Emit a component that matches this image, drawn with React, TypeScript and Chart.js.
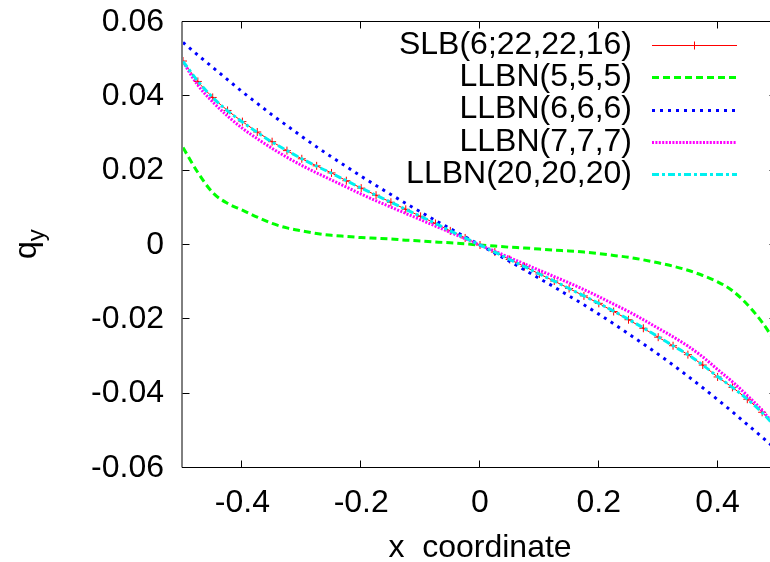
import React, { useEffect, useRef } from "react";
import { Chart, registerables } from "chart.js";

Chart.register(...registerables);

// ---------- data ----------
const xValues = [
  -0.5, -0.475, -0.45, -0.425, -0.4, -0.375, -0.35, -0.325, -0.3, -0.275,
  -0.25, -0.225, -0.2, -0.175, -0.15, -0.125, -0.1, -0.075, -0.05, -0.025,
  0,
  0.025, 0.05, 0.075, 0.1, 0.125, 0.15, 0.175, 0.2, 0.225, 0.25,
  0.275, 0.3, 0.325, 0.35, 0.375, 0.4, 0.425, 0.45, 0.475, 0.5,
];

const slb = [
  0.0495, 0.044, 0.0397, 0.0362, 0.0332, 0.0304, 0.0278, 0.0254, 0.0232, 0.0213,
  0.0194, 0.0173, 0.0153, 0.0134, 0.0115, 0.0096, 0.0077, 0.0058, 0.0038, 0.0019,
  0,
  -0.0019, -0.0039, -0.0058, -0.0078, -0.0097, -0.0117, -0.0137, -0.0157, -0.0179, -0.0201,
  -0.0224, -0.0248, -0.0271, -0.0295, -0.0323, -0.0355, -0.0383, -0.0415, -0.045, -0.0495,
];

const llbn5 = [
  0.0262, 0.0195, 0.0141, 0.0112, 0.0094, 0.0075, 0.0058, 0.0046, 0.0038, 0.0031,
  0.0026, 0.0023, 0.002, 0.0018, 0.0016, 0.0013, 0.0011, 0.0008, 0.0006, 0.0003,
  0,
  -0.0003, -0.0006, -0.0008, -0.0011, -0.0014, -0.0016, -0.0019, -0.0023, -0.0028, -0.0033,
  -0.004, -0.0048, -0.0057, -0.0068, -0.0082, -0.0099, -0.0123, -0.016, -0.0208, -0.0268,
];

const llbn6 = [
  0.0545, 0.0511, 0.0478, 0.0445, 0.0412, 0.0381, 0.035, 0.0321, 0.0292, 0.0264,
  0.0237, 0.0211, 0.0185, 0.016, 0.0136, 0.0112, 0.0089, 0.0066, 0.0044, 0.0022,
  0,
  -0.0022, -0.0044, -0.0067, -0.009, -0.0113, -0.0137, -0.0161, -0.0186, -0.0212, -0.0239,
  -0.0266, -0.0294, -0.0323, -0.0353, -0.0384, -0.0416, -0.0449, -0.0483, -0.0517, -0.0552,
];

const llbn7 = [
  0.0493, 0.043, 0.0385, 0.0347, 0.0314, 0.0286, 0.026, 0.0236, 0.0214, 0.0194,
  0.0175, 0.0156, 0.0137, 0.0119, 0.0102, 0.0085, 0.0068, 0.0051, 0.0034, 0.0017,
  0,
  -0.0017, -0.0034, -0.0051, -0.0068, -0.0085, -0.0102, -0.012, -0.0139, -0.0159, -0.0179,
  -0.0201, -0.0224, -0.0247, -0.0272, -0.0301, -0.0335, -0.0368, -0.0405, -0.0445, -0.0493,
];

const llbn20 = [
  0.0494, 0.0441, 0.0397, 0.0361, 0.0331, 0.0303, 0.0277, 0.0254, 0.0232, 0.0212,
  0.0193, 0.0173, 0.0153, 0.0134, 0.0115, 0.0096, 0.0077, 0.0058, 0.0038, 0.0019,
  0,
  -0.0019, -0.0039, -0.0058, -0.0078, -0.0097, -0.0117, -0.0137, -0.0157, -0.0178, -0.02,
  -0.0223, -0.0247, -0.0271, -0.0295, -0.0323, -0.0354, -0.0383, -0.0415, -0.0451, -0.0494,
];

const seriesNames = [
  "SLB(6;22,22,16)",
  "LLBN(5,5,5)",
  "LLBN(6,6,6)",
  "LLBN(7,7,7)",
  "LLBN(20,20,20)",
];

const xTicks = [-0.4, -0.2, 0, 0.2, 0.4];
const xTickLabels = ["-0.4", "-0.2", "0", "0.2", "0.4"];
const yTicks = [-0.06, -0.04, -0.02, 0, 0.02, 0.04, 0.06];
const yTickLabels = ["-0.06", "-0.04", "-0.02", "0", "0.02", "0.04", "0.06"];

const xTitle = "x  coordinate";
const yTitleMain = "q";
const yTitleSub = "y";

// ---------- styling ----------
const FONT_FAMILY = "'Liberation Sans', Arial, Helvetica, sans-serif";
const FONT_SIZE = 32;
const CANVAS_W = 800;
const CANVAS_H = 567;
const PLOT_LEFT = 183;
const PLOT_TOP = 22;
const PLOT_BOTTOM = 468;
const PLOT_RIGHT = 777;

const styles = [
  { color: "#ff0000", width: 1, dash: [] as number[] },
  { color: "#00ff00", width: 3, dash: [7, 4] },
  { color: "#0000ff", width: 3, dash: [3, 5] },
  { color: "#ff00ff", width: 3, dash: [2, 1.4] },
  { color: "#00f0f0", width: 3, dash: [7, 3, 3, 3] },
];

const seriesValues = [slb, llbn5, llbn6, llbn7, llbn20];

const decorPlugin = {
  id: "gnuplotDecor",
  afterDraw(chart: any) {
    const { ctx, chartArea: a, scales } = chart;
    const xs = scales.x;
    const ys = scales.y;
    const L = Math.round(a.left) - 0.5;
    const R = Math.round(a.right) - 0.5;
    const T = Math.round(a.top) - 0.5;
    const B = Math.round(a.bottom) - 0.5;
    ctx.save();
    ctx.globalAlpha = 1;
    ctx.strokeStyle = "#000000";
    ctx.lineWidth = 1;
    ctx.setLineDash([]);
    ctx.lineCap = "square";
    // frame
    ctx.beginPath();
    ctx.moveTo(L, T);
    ctx.lineTo(R, T);
    ctx.lineTo(R, B);
    ctx.lineTo(L, B);
    ctx.closePath();
    ctx.stroke();
    // inward ticks
    const TL = 7;
    ctx.lineCap = "butt";
    ctx.beginPath();
    xTicks.forEach((v) => {
      const px = Math.round(xs.getPixelForValue(v)) - 0.5;
      ctx.moveTo(px, B);
      ctx.lineTo(px, B - TL);
      ctx.moveTo(px, T);
      ctx.lineTo(px, T + TL);
    });
    yTicks.forEach((v) => {
      const py = Math.round(ys.getPixelForValue(v)) - 0.5;
      ctx.moveTo(L, py);
      ctx.lineTo(L + TL, py);
      ctx.moveTo(R, py);
      ctx.lineTo(R - TL, py);
    });
    ctx.stroke();

    // y axis title q_y (rotated)
    ctx.fillStyle = "#000";
    ctx.save();
    ctx.translate(36, 259);
    ctx.rotate(-Math.PI / 2);
    ctx.textAlign = "left";
    ctx.textBaseline = "alphabetic";
    ctx.font = `${FONT_SIZE}px ${FONT_FAMILY}`;
    ctx.fillText(yTitleMain, 0, 0);
    const w = ctx.measureText(yTitleMain).width;
    ctx.font = `${Math.round(FONT_SIZE * 0.75)}px ${FONT_FAMILY}`;
    ctx.fillText(yTitleSub, w, 8);
    ctx.restore();

    // legend (gnuplot style)
    ctx.font = `${FONT_SIZE}px ${FONT_FAMILY}`;
    ctx.textAlign = "right";
    ctx.textBaseline = "middle";
    seriesNames.forEach((name, i) => {
      const y = 45 + i * 32.3;
      ctx.fillStyle = "#000";
      ctx.fillText(name, 632, y);
      const st = styles[i];
      ctx.strokeStyle = st.color;
      ctx.lineWidth = st.width;
      ctx.setLineDash(st.dash);
      ctx.lineCap = "butt";
      ctx.beginPath();
      const yy = st.width % 2 === 1 ? Math.round(y) + 0.5 : Math.round(y);
      ctx.moveTo(652, yy);
      ctx.lineTo(737, yy);
      ctx.stroke();
      if (i === 0) {
        ctx.setLineDash([]);
        ctx.lineWidth = 1;
        ctx.beginPath();
        ctx.moveTo(694.5, yy - 4);
        ctx.lineTo(694.5, yy + 4);
        ctx.moveTo(690, yy);
        ctx.lineTo(699, yy);
        ctx.stroke();
      }
    });
    ctx.restore();
  },
};

export default function App() {
  const ref = useRef<HTMLCanvasElement | null>(null);

  useEffect(() => {
    if (!ref.current) return;
    const font = { family: FONT_FAMILY, size: FONT_SIZE };
    const datasets = seriesValues.map((vals, i) => ({
      label: seriesNames[i],
      data: xValues.map((x, j) => ({ x, y: vals[j] })),
      borderColor: styles[i].color,
      backgroundColor: styles[i].color,
      borderWidth: styles[i].width,
      borderDash: styles[i].dash,
      borderCapStyle: "butt" as const,
      fill: false,
      cubicInterpolationMode: "monotone" as const,
      pointStyle: "cross" as const,
      pointRadius: i === 0 ? 4 : 0,
      pointBorderWidth: 1,
      pointBorderColor: styles[i].color,
      order: 5 - i,
    }));

    const chart = new Chart(ref.current, {
      type: "line",
      data: { datasets },
      options: {
        responsive: false,
        animation: false,
        events: [],
        layout: { padding: { top: PLOT_TOP, right: CANVAS_W - PLOT_RIGHT, left: 0, bottom: 0 } },
        plugins: { legend: { display: false }, tooltip: { enabled: false } },
        scales: {
          x: {
            type: "linear",
            min: -0.5,
            max: 0.5,
            grid: { display: false, drawTicks: false },
            border: { display: false },
            afterBuildTicks: (s: any) => {
              s.ticks = xTicks.map((v) => ({ value: v }));
            },
            afterFit: (s: any) => {
              s.height = CANVAS_H - PLOT_BOTTOM;
              s.paddingLeft = 0;
              s.paddingRight = 0;
              s.paddingTop = 0;
              s.paddingBottom = 0;
            },
            ticks: {
              autoSkip: false,
              maxRotation: 0,
              minRotation: 0,
              padding: 16,
              color: "#000",
              font,
              callback: (_v: any, i: number) => xTickLabels[i],
            },
            title: { display: true, text: xTitle, color: "#000", font, padding: 0 },
          },
          y: {
            type: "linear",
            min: -0.06,
            max: 0.06,
            grid: { display: false, drawTicks: false },
            border: { display: false },
            afterBuildTicks: (s: any) => {
              s.ticks = yTicks.map((v) => ({ value: v }));
            },
            afterFit: (s: any) => {
              s.width = PLOT_LEFT;
              s.paddingLeft = 0;
              s.paddingRight = 0;
              s.paddingTop = 0;
              s.paddingBottom = 0;
            },
            ticks: {
              autoSkip: false,
              padding: 19,
              color: "#000",
              font,
              callback: (_v: any, i: number) => yTickLabels[i],
            },
          },
        },
      },
      plugins: [decorPlugin],
    });
    return () => chart.destroy();
  }, []);

  return (
    <div
      style={{
        position: "fixed",
        left: 0,
        top: 0,
        width: 770,
        height: 562,
        overflow: "hidden",
        background: "#fff",
      }}
    >
      <canvas ref={ref} width={CANVAS_W} height={CANVAS_H} style={{ display: "block" }} />
    </div>
  );
}
